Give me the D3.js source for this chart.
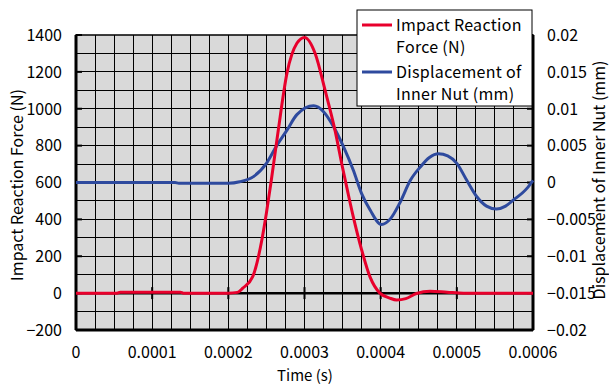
<!DOCTYPE html>
<html>
<head>
<meta charset="utf-8">
<script src="https://cdn.jsdelivr.net/npm/d3@7"></script>
<style>
  body { margin: 0; background: #fff; }
  text { font-family: "Noto Sans CJK JP", "DejaVu Sans", sans-serif; font-size: 16px; fill: #000; }
</style>
</head>
<body>
<script>
// time (s) and impact reaction force (N)
const forceTime = [0, 0.000054, 0.000058, 0.000137, 0.000141, 0.0002, 0.000212, 0.000219, 0.000232, 0.000244, 0.00025, 0.000256, 0.000265, 0.000277, 0.00029, 0.0003, 0.000314, 0.000327, 0.00034, 0.00035, 0.000357, 0.000364, 0.000375, 0.000386, 0.000399, 0.000412, 0.000421, 0.000433, 0.000447, 0.000465, 0.000487, 0.000509, 0.0006];
const force = [0, 0, 5, 5, 0, 0, 4, 27, 89, 288, 434, 600, 867, 1193, 1355, 1387, 1300, 1101, 884, 680, 545, 415, 235, 88, 0, -27, -37, -30, -2, 10, 5, 0, 0];

// time (s) and inner nut displacement (mm)
const dispTime = [0, 0.00013, 0.000135, 0.0002, 0.000215, 0.000233, 0.00025, 0.000263, 0.000277, 0.00029, 0.000312, 0.000325, 0.000338, 0.000351, 0.000364, 0.000375, 0.000386, 0.000401, 0.000413, 0.000425, 0.000439, 0.000452, 0.000464, 0.000476, 0.000488, 0.0005, 0.000513, 0.000526, 0.000539, 0.000552, 0.000564, 0.000574, 0.000592, 0.0006];
const displacement = [0, 0, -0.0001, -0.0001, 0.0001, 0.0008, 0.0026, 0.0049, 0.0071, 0.0092, 0.0104, 0.0096, 0.0076, 0.0049, 0.0017, -0.0015, -0.0037, -0.0057, -0.0049, -0.0028, 0.0003, 0.0021, 0.0034, 0.0039, 0.0036, 0.0026, 0.0003, -0.0019, -0.0032, -0.0036, -0.0032, -0.0024, -0.0008, 0.0003];

const xTicks = [0, 0.0001, 0.0002, 0.0003, 0.0004, 0.0005, 0.0006];
const leftTicks = [-200, 0, 200, 400, 600, 800, 1000, 1200, 1400];
const rightTicks = [-0.02, -0.015, -0.01, -0.005, 0, 0.005, 0.01, 0.015, 0.02];

const W = 609, H = 385;
const m = { left: 76, right: 76, top: 35, bottom: 55 };
const svg = d3.select('body').append('svg').attr('width', W).attr('height', H);

const x = d3.scaleLinear().domain([0, 0.0006]).range([m.left, W - m.right]);
const y = d3.scaleLinear().domain([-200, 1400]).range([H - m.bottom, m.top]);
const y2 = d3.scaleLinear().domain([-0.02, 0.02]).range([H - m.bottom, m.top]);

const fmt = v => (v < 0 ? '\u2212' : '') + Math.abs(v).toString().replace(/^(\d)e-(\d+)$/, (s, a, b) => '0.' + '0'.repeat(+b - 1) + a);

// plot background
svg.append('rect')
  .attr('x', x(0)).attr('y', y(1400))
  .attr('width', x(0.0006) - x(0)).attr('height', y(-200) - y(1400))
  .attr('fill', '#d9d9d9');

// grid
const grid = svg.append('g').attr('shape-rendering', 'crispEdges');
grid.selectAll('.vg').data(d3.range(1, 24).map(i => i * 0.000025)).enter().append('line')
  .attr('x1', d => x(d)).attr('x2', d => x(d))
  .attr('y1', y(1400)).attr('y2', y(-200))
  .attr('stroke', '#000').attr('stroke-width', 1);
grid.selectAll('.hg').data(d3.range(-100, 1400, 100)).enter().append('line')
  .attr('x1', x(0)).attr('x2', x(0.0006))
  .attr('y1', d => y(d)).attr('y2', d => y(d))
  .attr('stroke', '#000').attr('stroke-width', 1);

// frame
svg.append('rect')
  .attr('x', x(0)).attr('y', y(1400))
  .attr('width', x(0.0006) - x(0)).attr('height', y(-200) - y(1400))
  .attr('fill', 'none').attr('stroke', '#000').attr('stroke-width', 1.5);
svg.append('line').attr('x1', x(0)).attr('x2', x(0)).attr('y1', y(1400)).attr('y2', y(-200))
  .attr('stroke', '#000').attr('stroke-width', 3);
svg.append('line').attr('x1', x(0.0006)).attr('x2', x(0.0006)).attr('y1', y(1400)).attr('y2', y(-200))
  .attr('stroke', '#000').attr('stroke-width', 3);
svg.append('line').attr('x1', x(0)).attr('x2', x(0.0006)).attr('y1', y(-200)).attr('y2', y(-200))
  .attr('stroke', '#000').attr('stroke-width', 3);

// x axis line at zero force
svg.append('line').attr('x1', x(0)).attr('x2', x(0.0006)).attr('y1', y(0)).attr('y2', y(0))
  .attr('stroke', '#000').attr('stroke-width', 2.5);
svg.selectAll('.xt').data(xTicks.slice(1, -1)).enter().append('line')
  .attr('x1', d => x(d)).attr('x2', d => x(d))
  .attr('y1', y(0) - 6).attr('y2', y(0) + 6)
  .attr('stroke', '#000').attr('stroke-width', 2);

// inward ticks left and right
svg.selectAll('.lt').data(leftTicks).enter().append('line')
  .attr('x1', x(0)).attr('x2', x(0) + 6)
  .attr('y1', d => y(d)).attr('y2', d => y(d))
  .attr('stroke', '#000').attr('stroke-width', 2);
svg.selectAll('.rt').data(rightTicks).enter().append('line')
  .attr('x1', x(0.0006) - 6).attr('x2', x(0.0006))
  .attr('y1', d => y2(d)).attr('y2', d => y2(d))
  .attr('stroke', '#000').attr('stroke-width', 2);

// tick labels
svg.selectAll('.xl').data(xTicks).enter().append('text')
  .attr('x', d => x(d)).attr('y', 357.5).attr('text-anchor', 'middle')
  .text(d => fmt(d));
svg.selectAll('.yl').data(leftTicks).enter().append('text')
  .attr('x', 62).attr('y', d => y(d)).attr('dy', '0.36em').attr('text-anchor', 'end')
  .text(d => fmt(d));
svg.selectAll('.y2l').data(rightTicks).enter().append('text')
  .attr('x', 547).attr('y', d => y2(d)).attr('dy', '0.36em').attr('text-anchor', 'start')
  .text(d => fmt(d));

// axis titles
svg.append('text').attr('x', 305).attr('y', 380.5).attr('text-anchor', 'middle')
  .style('font-size', '15px').text('Time (s)');
svg.append('text').attr('transform', 'translate(23,185) rotate(-90)').attr('text-anchor', 'middle')
  .text('Impact Reaction Force (N)');
svg.append('text').attr('transform', 'translate(605,180) rotate(-90)').attr('text-anchor', 'middle')
  .text('Displacement of Inner Nut (mm)');

// curves
const forceLine = d3.line().x((d, i) => x(forceTime[i])).y(d => y(d)).curve(d3.curveMonotoneX);
const dispLine = d3.line().x((d, i) => x(dispTime[i])).y(d => y2(d)).curve(d3.curveMonotoneX);
svg.append('path').attr('d', dispLine(displacement))
  .attr('fill', 'none').attr('stroke', '#2e4a9e').attr('stroke-width', 3);
svg.append('path').attr('d', forceLine(force))
  .attr('fill', 'none').attr('stroke', '#e8002c').attr('stroke-width', 3);

// legend
const lg = svg.append('g');
lg.append('rect').attr('x', 357).attr('y', 10).attr('width', 175).attr('height', 96)
  .attr('fill', '#fff').attr('stroke', '#000').attr('stroke-width', 1);
const legendItems = [
  { lines: ['Impact Reaction', 'Force (N)'], color: '#e8002c', y: 25 },
  { lines: ['Displacement of', 'Inner Nut (mm)'], color: '#2e4a9e', y: 72 }
];
legendItems.forEach(it => {
  lg.append('line').attr('x1', 362).attr('x2', 392).attr('y1', it.y).attr('y2', it.y)
    .attr('stroke', it.color).attr('stroke-width', 3);
  it.lines.forEach((t, i) => {
    lg.append('text').attr('x', 396).attr('y', it.y + i * 22.5).attr('dy', '0.36em')
      .attr('letter-spacing', '0.3px').text(t);
  });
});
</script>
</body>
</html>
